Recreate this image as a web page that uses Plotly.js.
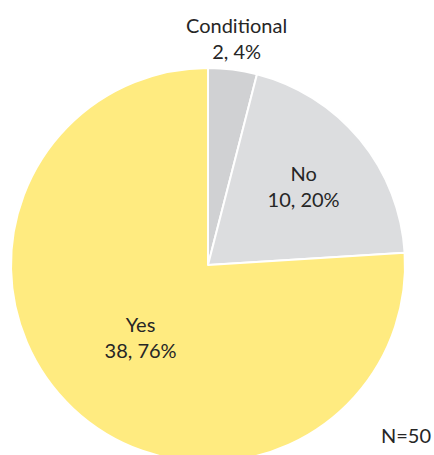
<!DOCTYPE html>
<html>
<head>
<meta charset="utf-8">
<script src="https://cdn.plot.ly/plotly-3.0.1.min.js"></script>
<style>
html,body{margin:0;padding:0;overflow:hidden;background:#fff;width:434px;height:455px;}
#chart{position:absolute;left:0;top:0;width:434px;height:470px;}
</style>
</head>
<body>
<div id="chart"></div>
<script>
const categories = ["Conditional", "No", "Yes"];
const counts = [2, 10, 38];
const percents = [4, 20, 76];
const sliceColors = ["#D0D1D3", "#DCDDDF", "#FFEB80"];
const textPositions = ["none", "inside", "inside"];
const totalLabel = "N=50";

const FONT = "Lato, Open Sans, Liberation Sans, sans-serif";
const W = 434, H = 470;
const trace = {
  type: "pie",
  labels: categories,
  values: counts,
  customdata: percents,
  sort: false,
  direction: "clockwise",
  rotation: 0,
  marker: {colors: sliceColors, line: {color: "#ffffff", width: 2}},
  texttemplate: "%{label}<br>%{value}, %{customdata}%",
  textposition: textPositions,
  insidetextorientation: "horizontal",
  textfont: {family: FONT, size: 20, color: "#262626"},
  hoverinfo: "none",
  showlegend: false,
  domain: {x: [11 / W, 405 / W], y: [1 - 462 / H, 1 - 68 / H]},
  automargin: false
};
const layout = {
  width: W, height: H,
  margin: {l: 0, r: 0, t: 0, b: 0},
  paper_bgcolor: "#ffffff",
  showlegend: false,
  annotations: [
    {
      text: categories[0] + "<br>" + counts[0] + ", " + percents[0] + "%",
      xref: "paper", yref: "paper",
      x: 236 / W, y: 1 - 38 / H, xanchor: "center", yanchor: "middle",
      showarrow: false,
      font: {family: FONT, size: 20, color: "#262626"}
    },
    {
      text: totalLabel, xref: "paper", yref: "paper",
      x: 433 / W, y: 1 - 435 / H, xanchor: "right", yanchor: "middle",
      showarrow: false,
      font: {family: FONT, size: 20, color: "#262626"}
    }
  ]
};
Plotly.newPlot("chart", [trace], layout, {staticPlot: true, displayModeBar: false});
</script>
</body>
</html>
